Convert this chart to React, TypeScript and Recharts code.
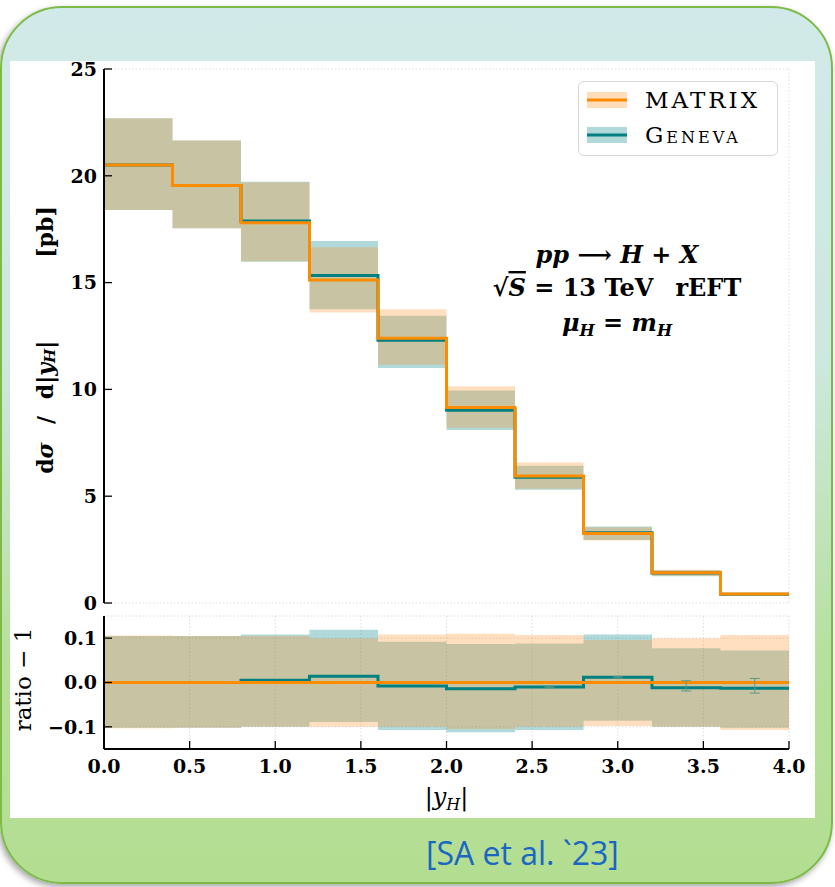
import React from 'react';
import {
  ComposedChart,
  Area,
  Line,
  Scatter,
  ErrorBar,
  XAxis,
  YAxis,
  CartesianGrid,
  Legend,
} from 'recharts';

// bin edges of |y_H| (10 bins of width 0.4)
const binEdges = [0, 0.4, 0.8, 1.2, 1.6, 2.0, 2.4, 2.8, 3.2, 3.6, 4.0];

// main panel, dσ/d|y_H| in pb, one value per bin
const matrixCentral = [20.5, 19.55, 17.8, 15.12, 12.4, 9.15, 5.95, 3.25, 1.42, 0.42];
const matrixUp = [22.7, 21.65, 19.7, 16.65, 13.75, 10.15, 6.58, 3.55, 1.56, 0.46];
const matrixLow = [18.4, 17.55, 16.0, 13.6, 11.15, 8.2, 5.35, 2.93, 1.28, 0.38];
const genevaCentral = [20.5, 19.55, 17.88, 15.33, 12.3, 9.02, 5.89, 3.29, 1.4, 0.41];
const genevaUp = [22.7, 21.65, 19.72, 16.95, 13.45, 9.95, 6.43, 3.58, 1.53, 0.45];
const genevaLow = [18.4, 17.55, 15.98, 13.75, 11.0, 8.1, 5.3, 2.95, 1.25, 0.37];

// ratio panel (ratio - 1 w.r.t. MATRIX)
const matrixRatio = [0, 0, 0, 0, 0, 0, 0, 0, 0, 0];
const matrixRatioUp = [0.106, 0.105, 0.105, 0.1, 0.108, 0.11, 0.107, 0.096, 0.1, 0.107];
const matrixRatioLow = [-0.103, -0.102, -0.1, -0.1, -0.1, -0.105, -0.1, -0.098, -0.1, -0.107];
const genevaRatio = [0, 0, 0.005, 0.014, -0.008, -0.014, -0.01, 0.012, -0.012, -0.013];
const genevaRatioUp = [0.105, 0.105, 0.108, 0.119, 0.092, 0.087, 0.088, 0.108, 0.077, 0.072];
const genevaRatioLow = [-0.102, -0.102, -0.1, -0.089, -0.107, -0.112, -0.107, -0.086, -0.1, -0.102];

// small statistical error bars in the ratio panel
const errX = [2.6, 3.0, 3.4, 3.8];
const errY = [-0.01, 0.012, -0.0075, -0.0075];
const errSize = [0.002, 0.002, 0.0115, 0.0165];

const xTicks = [0, 0.5, 1, 1.5, 2, 2.5, 3, 3.5, 4];
const mainYTicks = [0, 5, 10, 15, 20, 25];
const mainYMinorTicks = [0, 1, 2, 3, 4, 5, 6, 7, 8, 9, 10, 11, 12, 13, 14, 15, 16, 17, 18, 19, 20, 21, 22, 23, 24, 25];
const ratioYTicks = [-0.1, 0, 0.1];
const seriesNames = ['MATRIX', 'Geneva'];

const ORANGE = '#fb8c00';
const TEAL = '#008080';
const ORANGE_BAND = '#ff8c1a';
const serif = '"DejaVu Serif", serif';
const MAIN_TOP = 51;

const step = (arr: number[], i: number) => arr[Math.min(i, arr.length - 1)];

const mainData = binEdges.map((x, i) => ({
  x,
  matrix: step(matrixCentral, i),
  geneva: step(genevaCentral, i),
  matrixBand: [step(matrixLow, i), step(matrixUp, i)],
  genevaBand: [step(genevaLow, i), step(genevaUp, i)],
}));

const ratioData = binEdges.map((x, i) => ({
  x,
  matrix: step(matrixRatio, i),
  geneva: step(genevaRatio, i),
  matrixBand: [step(matrixRatioLow, i), step(matrixRatioUp, i)],
  genevaBand: [step(genevaRatioLow, i), step(genevaRatioUp, i)],
}));

const errData = errX.map((x, i) => ({ x, y: errY[i], err: errSize[i] }));

const axisLine = { stroke: '#000', strokeWidth: 2 };
const tickLine = { stroke: '#000', strokeWidth: 1.3 };
const tickFont = { fontFamily: serif, fontSize: 19, fontWeight: 'bold', fill: '#000' };

const fmtRatio = (v: number) => (v < 0 ? '\u2212' + Math.abs(v).toFixed(1) : v.toFixed(1));

function MainYLabel({ viewBox }: any) {
  const x = viewBox.x + 1;
  const t = (y: number) => `rotate(-90, ${x}, ${y})`;
  const common = {
    x,
    fontFamily: serif,
    fontWeight: 'bold',
    fontSize: 22,
    textAnchor: 'middle' as const,
    dominantBaseline: 'central' as const,
    fill: '#000',
  };
  // page y positions of the label pieces, converted to chart coords
  const y1 = 458 - MAIN_TOP;
  const y2 = 420 - MAIN_TOP;
  const y3 = 370 - MAIN_TOP;
  const y4 = 232 - MAIN_TOP;
  return (
    <g>
      <text {...common} y={y1} transform={t(y1)}>
        d<tspan fontStyle="italic">σ</tspan>
      </text>
      <text {...common} y={y2} transform={t(y2)}>/</text>
      <text {...common} y={y3} transform={t(y3)}>
        d|<tspan fontStyle="italic">y</tspan>
        <tspan fontStyle="italic" fontSize={15} dy={5}>H</tspan>
        <tspan dy={-5}>|</tspan>
      </text>
      <text {...common} y={y4} transform={t(y4)}>[pb]</text>
    </g>
  );
}

function RatioYLabel({ viewBox }: any) {
  const x = viewBox.x - 21;
  const y = viewBox.y + viewBox.height / 2 - 3;
  return (
    <text
      x={x}
      y={y}
      transform={`rotate(-90, ${x}, ${y})`}
      fontFamily={serif}
      fontSize={23}
      textAnchor="middle"
      dominantBaseline="central"
      fill="#000"
    >
      ratio − 1
    </text>
  );
}

function XLabel({ viewBox }: any) {
  const x = viewBox.x + viewBox.width / 2;
  return (
    <text x={x} y={viewBox.y + 56} fontFamily={serif} fontSize={24} textAnchor="middle" fill="#000">
      |<tspan fontStyle="italic">y</tspan>
      <tspan fontStyle="italic" fontSize={16} dy={5}>H</tspan>
      <tspan dy={-5}>|</tspan>
    </text>
  );
}

function LegendBox() {
  const lineColors = [ORANGE, TEAL];
  const bandColors = [ORANGE_BAND, TEAL];
  return (
    <div
      style={{
        width: 200,
        height: 75,
        boxSizing: 'border-box',
        border: '1px solid #d8d8d8',
        borderRadius: 6,
        background: 'rgba(255,255,255,0.92)',
        padding: '3px 0 0 8px',
      }}
    >
      {seriesNames.map((name, i) => (
        <div key={name} style={{ display: 'flex', alignItems: 'center', height: 30, marginBottom: 4.5 }}>
          <svg width={40} height={16}>
            <rect width={40} height={16} fill={bandColors[i]} fillOpacity={0.3} />
            <line x1={0} x2={40} y1={8} y2={8} stroke={lineColors[i]} strokeWidth={3} />
          </svg>
          <span
            style={{
              marginLeft: 18,
              fontFamily: serif,
              fontSize: 23,
              letterSpacing: 3,
              fontVariant: i === 1 ? 'small-caps' : 'normal',
              color: '#000',
              lineHeight: '30px',
            }}
          >
            {name}
          </span>
        </div>
      ))}
    </div>
  );
}

function MainPanel() {
  return (
    <ComposedChart width={805} height={570} data={mainData} margin={{ top: 18, right: 26, bottom: 18, left: 34 }}>
      <CartesianGrid yAxisId="minor" stroke="#dcdcdc" strokeDasharray="1.5 2" />
      <XAxis
        dataKey="x"
        type="number"
        domain={[0, 4]}
        ticks={xTicks}
        interval={0}
        tick={false}
        tickSize={-8}
        height={0}
        axisLine={axisLine}
        tickLine={tickLine}
      />
      <XAxis
        xAxisId="top"
        orientation="top"
        dataKey="x"
        type="number"
        domain={[0, 4]}
        ticks={xTicks}
        interval={0}
        tick={false}
        tickSize={-8}
        height={0}
        axisLine={axisLine}
        tickLine={tickLine}
      />
      <YAxis
        yAxisId="minor"
        type="number"
        domain={[0, 25]}
        ticks={mainYMinorTicks}
        interval={0}
        tick={false}
        tickSize={-4}
        width={0}
        axisLine={false}
        tickLine={tickLine}
      />
      <YAxis
        type="number"
        domain={[0, 25]}
        ticks={mainYTicks}
        interval={0}
        tickSize={-8}
        tickMargin={15}
        width={60}
        tick={tickFont}
        axisLine={axisLine}
        tickLine={tickLine}
        label={{ content: MainYLabel }}
      />
      <YAxis
        yAxisId="rightMinor"
        orientation="right"
        type="number"
        domain={[0, 25]}
        ticks={mainYMinorTicks}
        interval={0}
        tick={false}
        tickSize={-4}
        width={0}
        axisLine={false}
        tickLine={tickLine}
      />
      <YAxis
        yAxisId="right"
        orientation="right"
        type="number"
        domain={[0, 25]}
        ticks={mainYTicks}
        interval={0}
        tick={false}
        tickSize={-8}
        width={0}
        axisLine={axisLine}
        tickLine={tickLine}
      />
      <Area dataKey="genevaBand" type="stepAfter" stroke="none" fill={TEAL} fillOpacity={0.3} activeDot={false} isAnimationActive={false} />
      <Area dataKey="matrixBand" type="stepAfter" stroke="none" fill={ORANGE_BAND} fillOpacity={0.28} activeDot={false} isAnimationActive={false} />
      <Line dataKey="geneva" type="stepAfter" stroke={TEAL} strokeWidth={3} dot={false} activeDot={false} isAnimationActive={false} />
      <Line dataKey="matrix" type="stepAfter" stroke={ORANGE} strokeWidth={3} dot={false} activeDot={false} isAnimationActive={false} />
      <Legend
        layout="vertical"
        verticalAlign="middle"
        align="center"
        wrapperStyle={{ position: 'absolute', left: 568, top: 81 - MAIN_TOP, width: 200, height: 75 }}
        content={() => <LegendBox />}
      />
    </ComposedChart>
  );
}

function RatioPanel() {
  return (
    <ComposedChart width={805} height={212} data={ratioData} margin={{ top: 10, right: 26, bottom: 0, left: 34 }}>
      <CartesianGrid stroke="#dcdcdc" strokeDasharray="1.5 2" />
      <XAxis
        dataKey="x"
        type="number"
        domain={[0, 4]}
        ticks={xTicks}
        interval={0}
        tickSize={-8}
        tickMargin={18.5}
        height={69}
        tick={tickFont}
        tickFormatter={(v: number) => v.toFixed(1)}
        axisLine={axisLine}
        tickLine={tickLine}
        label={{ content: XLabel }}
      />
      <XAxis
        xAxisId="top"
        orientation="top"
        dataKey="x"
        type="number"
        domain={[0, 4]}
        ticks={xTicks}
        interval={0}
        tick={false}
        tickSize={-8}
        height={0}
        axisLine={axisLine}
        tickLine={tickLine}
      />
      <YAxis
        type="number"
        domain={[-0.15, 0.15]}
        ticks={ratioYTicks}
        interval={0}
        tickSize={-8}
        tickMargin={15}
        width={60}
        tick={tickFont}
        tickFormatter={fmtRatio}
        axisLine={axisLine}
        tickLine={tickLine}
        label={{ content: RatioYLabel }}
      />
      <YAxis
        yAxisId="right"
        orientation="right"
        type="number"
        domain={[-0.15, 0.15]}
        ticks={ratioYTicks}
        interval={0}
        tick={false}
        tickSize={-8}
        width={0}
        axisLine={axisLine}
        tickLine={tickLine}
      />
      <Area dataKey="genevaBand" type="stepAfter" stroke="none" fill={TEAL} fillOpacity={0.3} activeDot={false} isAnimationActive={false} />
      <Area dataKey="matrixBand" type="stepAfter" stroke="none" fill={ORANGE_BAND} fillOpacity={0.28} activeDot={false} isAnimationActive={false} />
      <Line dataKey="geneva" type="stepAfter" stroke={TEAL} strokeWidth={3} dot={false} activeDot={false} isAnimationActive={false} />
      <Line dataKey="matrix" type="stepAfter" stroke={ORANGE} strokeWidth={3} dot={false} activeDot={false} isAnimationActive={false} />
      <Scatter data={errData} dataKey="y" shape={() => <g />} isAnimationActive={false}>
        <ErrorBar dataKey="err" direction="y" width={5} stroke="#5f9a86" strokeWidth={1} />
      </Scatter>
    </ComposedChart>
  );
}

export default function App() {
  return (
    <div style={{ position: 'absolute', left: 0, top: 0, width: 835, height: 887, overflow: 'hidden', background: '#fff' }}>
      <div
        style={{
          position: 'absolute',
          left: 0,
          top: 6,
          width: 833,
          height: 878,
          boxSizing: 'border-box',
          border: '2px solid #7cbb45',
          borderRadius: 62,
          background: 'linear-gradient(180deg, #d1eae9 0%, #cde8df 40%, #b8df9c 75%, #b3de91 100%)',
          boxShadow: '-2px 3px 6px rgba(0,0,0,0.35)',
        }}
      />
      <div style={{ position: 'absolute', left: 10, top: 61, width: 805, height: 757, background: '#fff' }} />
      <div style={{ position: 'absolute', left: 10, top: MAIN_TOP }}>
        <MainPanel />
      </div>
      <div style={{ position: 'absolute', left: 10, top: 606 }}>
        <RatioPanel />
      </div>
      <svg width={835} height={887} style={{ position: 'absolute', left: 0, top: 0, pointerEvents: 'none' }}>
        <g fontFamily={serif} fontWeight="bold" fontSize={24} textAnchor="middle" fill="#000">
          <text x={617} y={263}>
            <tspan fontStyle="italic">pp</tspan> ⟶ <tspan fontStyle="italic">H</tspan> + <tspan fontStyle="italic">X</tspan>
          </text>
          <text x={617} y={296}>
            √<tspan fontStyle="italic" textDecoration="overline">S</tspan> = 13 TeV<tspan dx={22}>rEFT</tspan>
          </text>
          <text x={617} y={331}>
            <tspan fontStyle="italic">μ</tspan>
            <tspan fontStyle="italic" fontSize={16} dy={5}>H</tspan>
            <tspan dy={-5}> = </tspan>
            <tspan fontStyle="italic">m</tspan>
            <tspan fontStyle="italic" fontSize={16} dy={5}>H</tspan>
          </text>
        </g>
      </svg>
      <div
        style={{
          position: 'absolute',
          left: 426,
          top: 832,
          fontFamily: '"Open Sans", sans-serif',
          fontSize: 32,
          color: '#1a66c4',
          lineHeight: '42px',
          whiteSpace: 'nowrap',
        }}
      >
        [SA et al. `23]
      </div>
    </div>
  );
}
